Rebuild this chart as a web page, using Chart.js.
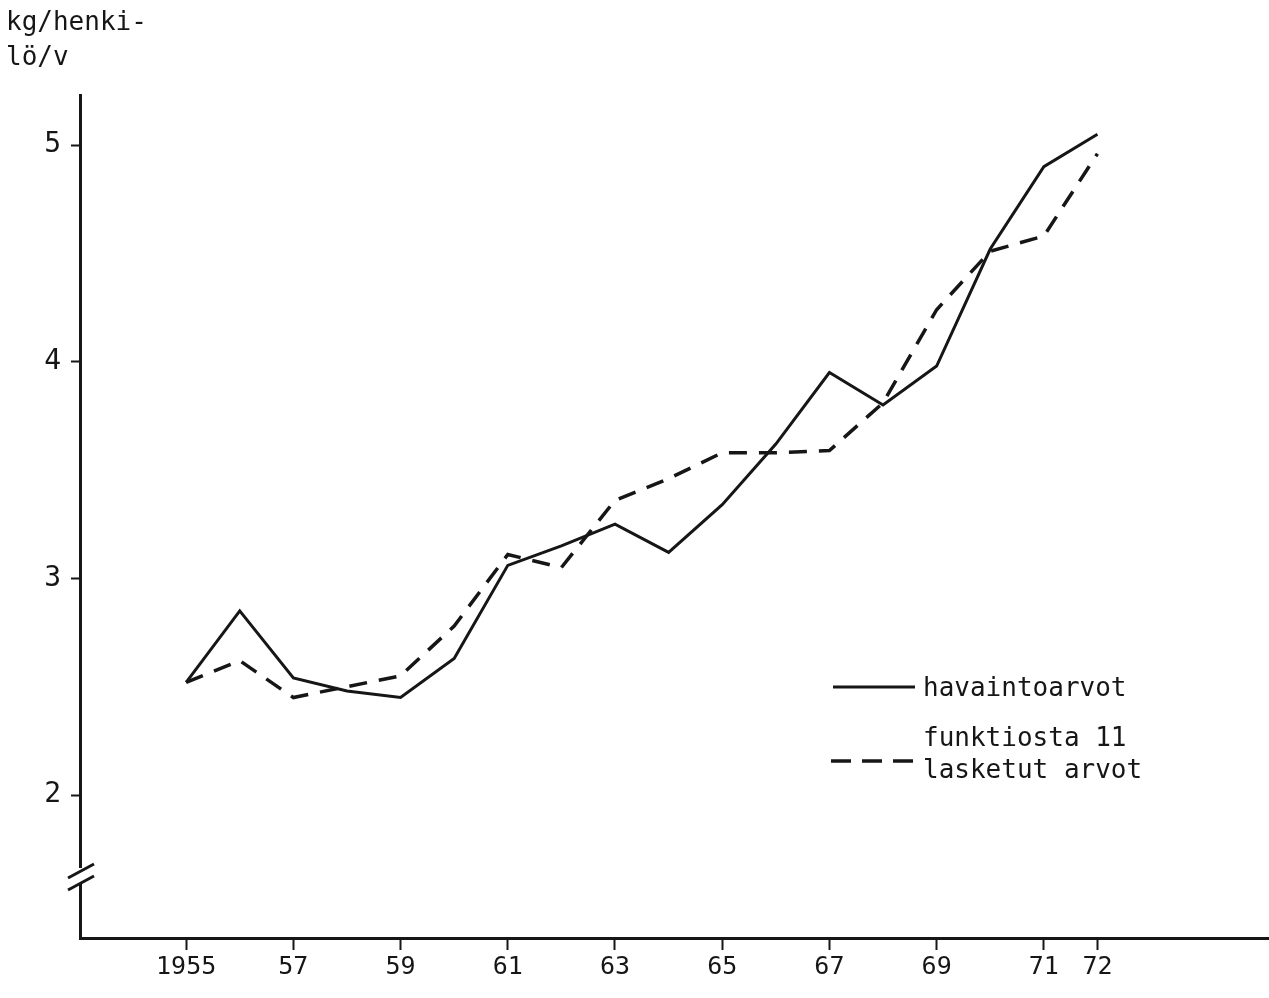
<!DOCTYPE html>
<html>
<head>
<meta charset="utf-8">
<title>kg/henkilö/v</title>
<script src="https://cdn.jsdelivr.net/npm/chart.js@4"></script>
<style>
  html, body { margin: 0; padding: 0; background: #fff; }
  #wrap { width: 1269px; height: 998px; }
</style>
</head>
<body>
<div id="wrap"><canvas id="chart" width="1269" height="998"></canvas></div>
<script>
const years = [1955, 1956, 1957, 1958, 1959, 1960, 1961, 1962, 1963, 1964, 1965, 1966, 1967, 1968, 1969, 1970, 1971, 1972];
// havaintoarvot (observed)
const observed = [2.52, 2.85, 2.54, 2.48, 2.45, 2.63, 3.06, 3.15, 3.25, 3.12, 3.34, 3.62, 3.95, 3.80, 3.98, 4.52, 4.90, 5.05];
// funktiosta 11 lasketut arvot (computed)
const computed = [2.52, 2.62, 2.45, 2.50, 2.55, 2.78, 3.11, 3.05, 3.36, 3.46, 3.58, 3.58, 3.59, 3.81, 4.24, 4.51, 4.58, 4.96];

const xTickYears = [1955, 1957, 1959, 1961, 1963, 1965, 1967, 1969, 1971, 1972];
const xTickLabels = ["1955", "57", "59", "61", "63", "65", "67", "69", "71", "72"];
const yTickValues = [2, 3, 4, 5];
const unitLabel = ["kg/henki-", "lö/v"];
const legendLabels = ["havaintoarvot", "funktiosta 11", "lasketut arvot"];

const INK = "#161616";
const FONT = "'DejaVu Sans Mono', 'Liberation Mono', monospace";

const toPoints = vals => years.map((y, i) => ({ x: y, y: vals[i] }));

// title, legend and the axis break
const extras = {
    id: "extras",
    afterDraw(chart) {
        const ctx = chart.ctx;
        ctx.save();
        ctx.fillStyle = INK;
        ctx.strokeStyle = INK;
        ctx.textBaseline = "middle";
        ctx.textAlign = "left";
        ctx.font = "26px " + FONT;
        ctx.fillText(unitLabel[0], 6, 23);
        ctx.fillText(unitLabel[1], 6, 58);

        // legend
        ctx.lineWidth = 3;
        ctx.setLineDash([]);
        ctx.beginPath();
        ctx.moveTo(833, 687);
        ctx.lineTo(915, 687);
        ctx.stroke();
        ctx.fillText(legendLabels[0], 923, 689);

        ctx.lineWidth = 3.5;
        ctx.setLineDash([20, 11]);
        ctx.beginPath();
        ctx.moveTo(831, 761);
        ctx.lineTo(915, 761);
        ctx.stroke();
        ctx.setLineDash([]);
        ctx.fillText(legendLabels[1], 923, 739);
        ctx.fillText(legendLabels[2], 923, 771);

        // axis break
        const x0 = chart.chartArea.left;
        ctx.fillStyle = "#fff";
        ctx.fillRect(x0 - 3, 868, 6, 16);
        ctx.lineWidth = 3;
        ctx.beginPath();
        ctx.moveTo(x0 - 12, 878);
        ctx.lineTo(x0 + 14, 864);
        ctx.moveTo(x0 - 12, 890);
        ctx.lineTo(x0 + 14, 876);
        ctx.stroke();
        ctx.restore();
    }
};

new Chart(document.getElementById("chart"), {
    type: "line",
    data: {
        datasets: [
            {
                label: legendLabels[0],
                data: toPoints(observed),
                borderColor: INK,
                borderWidth: 3,
                pointRadius: 0,
                tension: 0,
                fill: false
            },
            {
                label: legendLabels[1] + " " + legendLabels[2],
                data: toPoints(computed),
                borderColor: INK,
                borderWidth: 3.5,
                borderDash: [18, 12],
                pointRadius: 0,
                tension: 0,
                fill: false
            }
        ]
    },
    options: {
        responsive: false,
        animation: false,
        layout: { padding: { top: 95, right: 0, left: 0, bottom: 0 } },
        plugins: {
            legend: { display: false },
            tooltip: { enabled: false }
        },
        scales: {
            x: {
                type: "linear",
                min: 1953.02,
                max: 1975.2,
                afterBuildTicks: axis => { axis.ticks = xTickYears.map(v => ({ value: v })); },
                afterFit: axis => { axis.height = 60; },
                grid: {
                    drawOnChartArea: false,
                    drawTicks: true,
                    tickLength: 12,
                    tickColor: INK,
                    tickWidth: 2
                },
                border: { display: true, color: INK, width: 3 },
                ticks: {
                    autoSkip: false,
                    maxRotation: 0,
                    padding: 2,
                    color: INK,
                    font: { family: FONT, size: 25 },
                    callback: (value) => {
                        const i = xTickYears.indexOf(value);
                        return i >= 0 ? xTickLabels[i] : "";
                    }
                }
            },
            y: {
                min: 1.34,
                max: 5.231,
                afterBuildTicks: axis => { axis.ticks = yTickValues.map(v => ({ value: v })); },
                afterFit: axis => { axis.width = 80; },
                grid: {
                    drawOnChartArea: false,
                    drawTicks: true,
                    tickLength: 9,
                    tickColor: INK,
                    tickWidth: 2
                },
                border: { display: true, color: INK, width: 3 },
                ticks: {
                    padding: 10,
                    color: INK,
                    font: { family: FONT, size: 28 },
                    callback: value => String(value)
                }
            }
        }
    },
    plugins: [extras]
});
</script>
</body>
</html>
